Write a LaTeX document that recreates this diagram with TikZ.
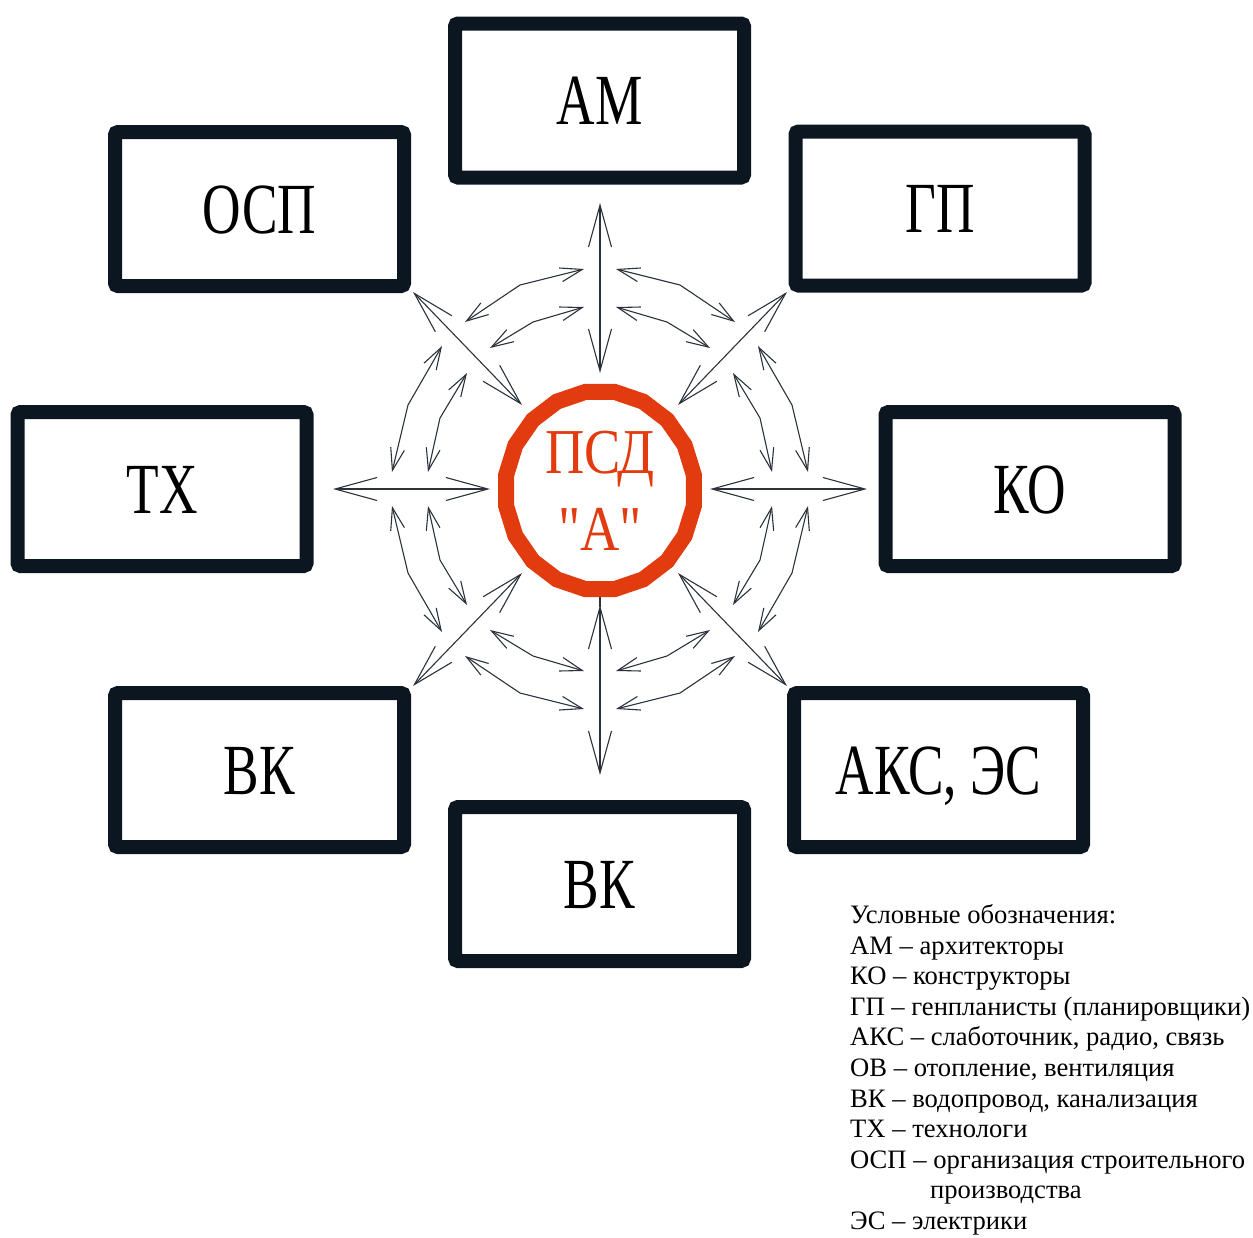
\documentclass[tikz,border=0pt]{standalone}
\usepackage{fontspec}
\usepackage{graphicx}
\setmainfont{Liberation Serif}
\newfontfamily\psdfont[Ligatures=TeXOff]{Liberation Serif}
\usetikzlibrary{arrows.meta,shapes.geometric}
\definecolor{boxc}{HTML}{0B1620}
\definecolor{ringc}{HTML}{E33B10}
\definecolor{arrc}{HTML}{2B323A}
\begin{document}
\begin{tikzpicture}[x=1pt,y=-1pt,
 box/.style={draw=boxc, line width=14pt, rounded corners=3pt, minimum width=289pt, minimum height=154pt, inner sep=0pt,
   font=\fontsize{72}{80}\selectfont, text height=48pt, text depth=0pt},
 big/.style={line width=1.1pt, draw=arrc, {Straight Barb[length=42pt,width=23pt]}-{Straight Barb[length=42pt,width=23pt]}},
 small/.style={line width=1.1pt, draw=arrc, {Straight Barb[length=22pt,width=14pt]}-{Straight Barb[length=22pt,width=14pt]}},
 leg/.style={anchor=base west, font=\fontsize{26.6}{30}\selectfont, inner sep=0pt, text depth=0pt}]
\useasboundingbox (0,0) rectangle (1253,1237);
% boxes
\node[box] (am)  at (599.5,100.5) {\scalebox{0.74}[1]{АМ}};
\node[box] (osp) at (259.5,209)  {\scalebox{0.74}[1]{ОСП}};
\node[box] (gp)  at (940,208.5)  {\scalebox{0.74}[1]{ГП}};
\node[box] (tx)  at (162,489)    {\scalebox{0.74}[1]{ТХ}};
\node[box] (ko)  at (1030,489)   {\scalebox{0.74}[1]{КО}};
\node[box] (vk1) at (259.5,770)  {\scalebox{0.74}[1]{ВК}};
\node[box] (aks) at (938.5,770)  {\scalebox{0.74}[1]{АКС, ЭС}};
\node[box] (vk2) at (599.5,884)  {\scalebox{0.74}[1]{ВК}};
% ring
\node[regular polygon, regular polygon sides=20, minimum size=190pt, yscale=1.05,
      draw=ringc, line width=16pt, inner sep=0pt] (ring) at (600,490.5) {};
\node[text=ringc, font=\psdfont\fontsize{64}{77}\selectfont, align=center, inner sep=0pt] (psd) at (600,491)
  {\scalebox{0.85}[1]{ПСД}\\\scalebox{0.85}[1]{"А"}};
% arrows
\foreach \s in {1,-1}{
  \draw[big] (600,{489+\s*286}) -- (600,{489+\s*116});
  \draw[big] ({600+\s*267},489) -- ({600+\s*110},489);
}
\draw[line width=1.1pt, draw=arrc] (ring.south) -- (600,607);
\foreach \sx in {1,-1}{\foreach \sy in {1,-1}{
  \draw[big] ({600-\sx*187},{489-\sy*197}) -- ({600-\sx*78},{489-\sy*84});
  \draw[small] ({600-\sx*135},{489-\sy*167}) -- ({600-\sx*80},{489-\sy*204}) -- ({600-\sx*16},{489-\sy*220});
  \draw[small] ({600-\sx*110},{489-\sy*141}) -- ({600-\sx*67},{489-\sy*167}) -- ({600-\sx*16},{489-\sy*182});
  \draw[small] ({600-\sx*208},{489-\sy*17}) -- ({600-\sx*192},{489-\sy*84}) -- ({600-\sx*158},{489-\sy*143});
  \draw[small] ({600-\sx*172},{489-\sy*17}) -- ({600-\sx*160},{489-\sy*71}) -- ({600-\sx*133},{489-\sy*116});
}}
% legend
\node[leg] (l1)  at (850,923.5)  {Условные обозначения:};
\node[leg] (l2)  at (850,954.1)  {АМ – архитекторы};
\node[leg] (l3)  at (850,984.7)  {КО – конструкторы};
\node[leg] (l4)  at (850,1015.3) {ГП – генпланисты (планировщики)};
\node[leg] (l5)  at (850,1045.9) {АКС – слаботочник, радио, связь};
\node[leg] (l6)  at (850,1076.5) {ОВ – отопление, вентиляция};
\node[leg] (l7)  at (850,1107.1) {ВК – водопровод, канализация};
\node[leg] (l8)  at (850,1137.7) {ТХ – технологи};
\node[leg] (l9)  at (850,1168.3) {ОСП – организация строительного};
\node[leg] (l10) at (930,1198.9) {производства};
\node[leg] (l11) at (850,1229.5) {ЭС – электрики};
\end{tikzpicture}
\end{document}
